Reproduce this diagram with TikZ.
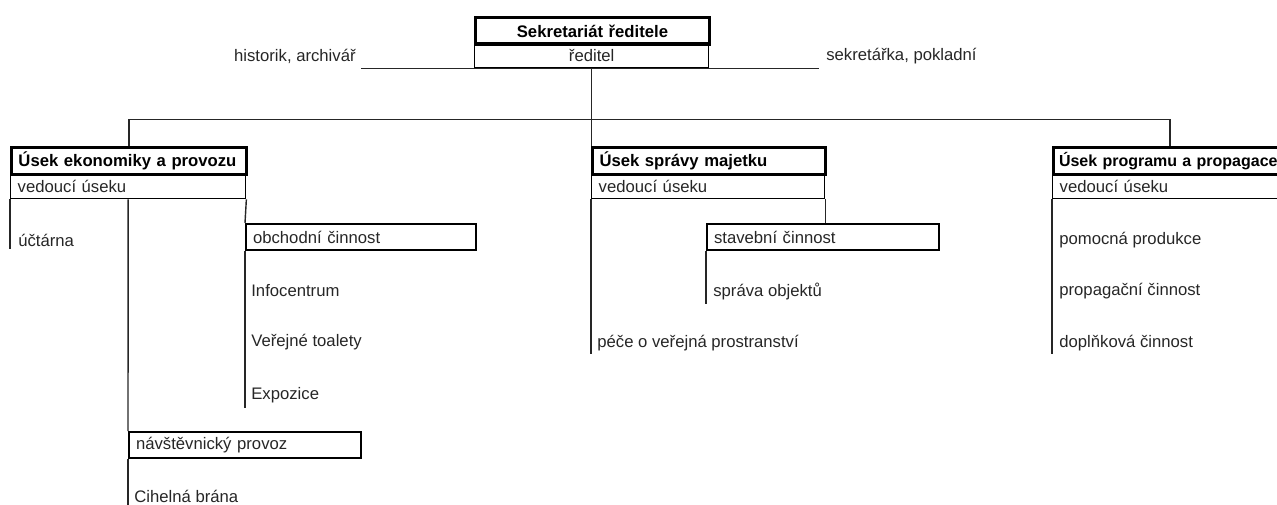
\documentclass[tikz,border=0pt]{standalone}
\usepackage{fontspec}
\setmainfont{Liberation Sans}
\usetikzlibrary{positioning}
\tikzset{
	conn/.style={line width=0.8pt, black!85},
	head/.style={draw, line width=1.7pt, anchor=north west, minimum height=0.54cm, inner xsep=0.14cm, inner ysep=0pt, align=left, font=\bfseries\fontsize{9.5}{11}\selectfont},
	subbox/.style={draw, line width=0.8pt, anchor=north west, minimum height=0.5cm, inner xsep=0.14cm, inner ysep=0pt, align=left, text=black!85, font=\fontsize{9.5}{11}\selectfont},
	itembox/.style={draw, line width=1.2pt, anchor=north west, minimum height=0.52cm, inner xsep=0.14cm, inner ysep=0pt, align=left, text=black!85, font=\fontsize{9.5}{11}\selectfont},
	item/.style={anchor=west, inner sep=0pt, text=black!85, font=\fontsize{9.5}{11}\selectfont}
}
\begin{document}
\begin{tikzpicture}[x=0.02cm, y=-0.02cm]
	\useasboundingbox (0,0) rectangle (1277,504);
	
	%%%%% vedeni %%%%%
	\node[subbox, text width=4.4cm, align=center] (red) at (474,42) {ředitel};
	\node[head, text width=4.4cm, align=center] (sekr) at (474,16) {Sekretariát ředitele};
	\node[item, anchor=east] (hist) at (356,56) {historik, archivář};
	\node[item] (sekret) at (826,56) {sekretářka, pokladní};
	\draw[conn] ([xshift=3pt]hist.east |- red.south) -- ([xshift=-4pt]sekret.west |- red.south);
	\draw[conn] (red.south) -- ++(0,51) coordinate (hub);
	
	%%%%% useky %%%%%
	\node[subbox, text width=4.42cm] (ekoved) at (10,173) {vedoucí úseku};
	\node[head, text width=4.42cm] (eko) at (10,146) {Úsek ekonomiky a provozu};
	\node[subbox, text width=4.38cm] (majved) at (591,173) {vedoucí úseku};
	\node[head, text width=4.38cm] (maj) at (591,146) {Úsek správy majetku};
	\node[subbox, text width=4.42cm] (progved) at (1052,173) {vedoucí úseku};
	\node[head, text width=5.2cm, inner xsep=0.11cm, font=\bfseries\fontsize{9.1}{11}\selectfont] (prog) at (1052,146) {Úsek programu a propagace};
	
	\draw[conn] (eko.north) |- (hub) -| (progved.north |- prog.north);
	\draw[conn] (hub) -- (hub |- maj.north);
	
	%%%%% ekonomika a provoz %%%%%
	\node[item] (uct) at (18,240) {účtárna};
	\draw[conn] (ekoved.south west) -- ++(0,50);
	
	\node[itembox, text width=4.32cm] (obch) at (245,223) {obchodní činnost};
	\draw[conn] (ekoved.south east) -- (obch.north west);
	\node[item] (info) at (251,291) {Infocentrum};
	\node[item] (toal) at (251,342) {Veřejné toalety};
	\node[item] (expo) at (251,395) {Expozice};
	\draw[conn] (obch.south west) -- ++(0,157);
	
	\node[itembox, text width=4.36cm] (navs) at (128,431) {návštěvnický provoz};
	\draw[conn] (ekoved.south) -- (navs.north west);
	\node[item] (cih) at (134,496) {Cihelná brána};
	\draw[conn] (navs.south west) -- ++(0,60);
	
	%%%%% sprava majetku %%%%%
	\node[itembox, text width=4.36cm] (stav) at (706,223) {stavební činnost};
	\draw[conn] (majved.south east) -- (majved.south east |- stav.north);
	\node[item] (obj) at (713,291) {správa objektů};
	\draw[conn] (stav.south west) -- ++(0,53);
	\node[item] (pece) at (597,343) {péče o veřejná prostranství};
	\draw[conn] (majved.south west) -- ++(0,155);
	
	%%%%% program a propagace %%%%%
	\node[item] (pomoc) at (1059,240) {pomocná produkce};
	\node[item] (propag) at (1059,291) {propagační činnost};
	\node[item] (dopl) at (1059,343) {doplňková činnost};
	\draw[conn] (progved.south west) -- ++(0,155);
\end{tikzpicture}
\end{document}
